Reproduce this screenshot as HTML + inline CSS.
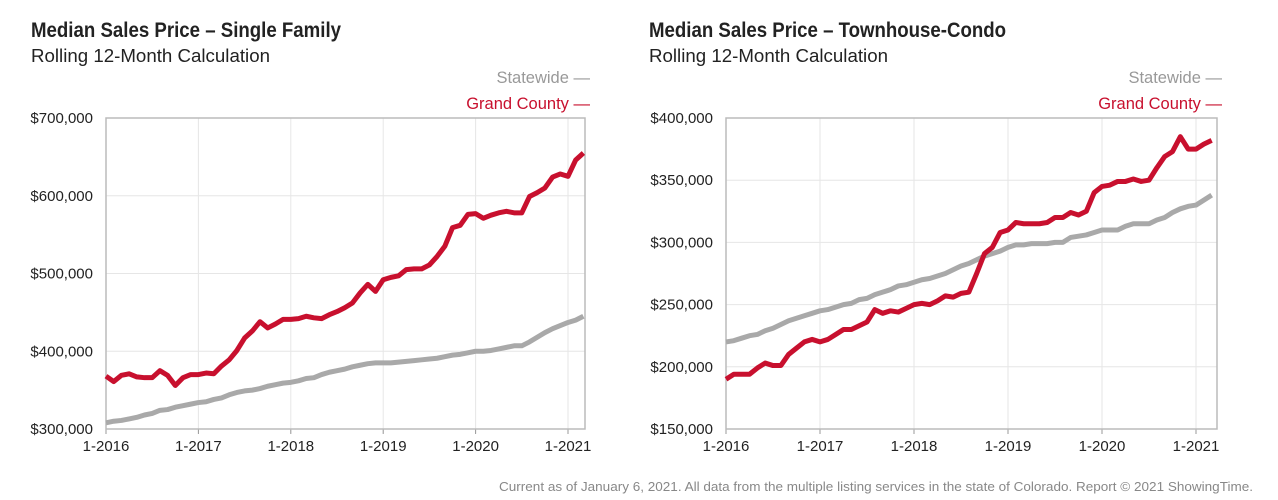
<!DOCTYPE html>
<html><head><meta charset="utf-8"><style>
body{margin:0;background:#fff;width:1278px;height:500px;overflow:hidden;font-family:"Liberation Sans",sans-serif}
svg{position:absolute;left:0;top:0}
</style></head><body>
<svg id="chart" width="1278" height="500"></svg>
<script>
const months=["1-2016","1-2017","1-2018","1-2019","1-2020","1-2021"];
const sfGrand=[368,361,369,371,367,366,366,375,369,356,366,370,370,372,371,381,389,401,417,426,438,430,435,441,441,442,445,443,442,447,451,456,462,475,486,477,492,495,497,505,506,506,511,522,535,559,562,576,577,571,575,578,580,578,578,599,604,610,624,628,625,646,655];
const sfState=[308,310,311,313,315,318,320,324,325,328,330,332,334,335,338,340,344,347,349,350,352,355,357,359,360,362,365,366,370,373,375,377,380,382,384,385,385,385,386,387,388,389,390,391,393,395,396,398,400,400,401,403,405,407,407,412,418,424,429,433,437,440,445];
const thGrand=[190,194,194,194,199,203,201,201,210,215,220,222,220,222,226,230,230,233,236,246,243,245,244,247,250,251,250,253,257,256,259,260,275,291,296,308,310,316,315,315,315,316,320,320,324,322,325,340,345,346,349,349,351,349,350,360,369,373,385,375,375,379,382];
const thState=[220,221,223,225,226,229,231,234,237,239,241,243,245,246,248,250,251,254,255,258,260,262,265,266,268,270,271,273,275,278,281,283,286,289,291,293,296,298,298,299,299,299,300,300,304,305,306,308,310,310,310,313,315,315,315,318,320,324,327,329,330,334,338];
const sfTicks=[300,400,500,600,700];
const thTicks=[150,200,250,300,350,400];
const NS="http://www.w3.org/2000/svg";
const svg=document.getElementById('chart');
function mk(tag,attrs,parent){const e=document.createElementNS(NS,tag);for(const k in attrs)e.setAttribute(k,attrs[k]);(parent||svg).appendChild(e);return e;}
function fmt(v){return "$"+v+",000";}
function drawChart(cfg){
  const g=mk('g',{});
  
  
  const L=cfg.x0,R=cfg.x1,T=118,B=429;
  const perMonth=(cfg.x2021-L)/60;
  const xs=i=>L+i*perMonth;
  const ys=v=>B-(v-cfg.min)/(cfg.max-cfg.min)*(B-T);
  let t=mk('text',{x:cfg.tx,y:37,'font-weight':'bold','font-size':'21',fill:'#222',textLength:cfg.tw,lengthAdjust:'spacingAndGlyphs'},g);t.textContent=cfg.title;
  
  t=mk('text',{x:cfg.tx,y:62,'font-size':'18.5',fill:'#222',textLength:239,lengthAdjust:'spacingAndGlyphs'},g);t.textContent="Rolling 12-Month Calculation";
  
  t=mk('text',{x:R+5,y:83,'font-size':'16.5','text-anchor':'end',fill:'#999'},g);t.textContent="Statewide  —";
  
  t=mk('text',{x:R+5,y:109,'font-size':'16.5','text-anchor':'end',fill:'#c8102e'},g);t.textContent="Grand County  —";
  
  cfg.ticks.forEach(v=>{
    const l=mk('line',{x1:L,x2:R,y1:ys(v),y2:ys(v),stroke:'#e6e6e6','stroke-width':1},g);
    
    const tt=mk('text',{x:L-13,y:ys(v)+5,'font-size':'15','text-anchor':'end',fill:'#222'},g);tt.textContent=fmt(v);
    
  });
  months.forEach((m,i)=>{
    const x=xs(i*12);
    const l=mk('line',{x1:x,x2:x,y1:T,y2:B+4,stroke:'#e6e6e6','stroke-width':1},g);
    
    const tk=mk('line',{x1:x,x2:x,y1:B,y2:B+5,stroke:'#999','stroke-width':1},g);
    
    const tt=mk('text',{x:x,y:B+22,'font-size':'15','text-anchor':'middle',fill:'#222'},g);tt.textContent=m;
    
  });
  const frame=mk('rect',{x:L,y:T,width:R-L,height:B-T,fill:'none',stroke:'#bbb','stroke-width':1.5},g);
  
  const line=(arr,color,name)=>{
    const p=mk('polyline',{points:arr.map((v,i)=>xs(i)+','+ys(v)).join(' '),fill:'none',stroke:color,'stroke-width':5,'stroke-linejoin':'round','stroke-linecap':'butt'},g);
    
  };
  line(cfg.state,'#a9a9a9','statewide-line');
  line(cfg.grand,'#c8102e','grand-county-line');
}
drawChart({name:'single-family-chart',title:'Median Sales Price – Single Family',tx:31,tw:310,x0:106,x1:585,x2021:568,min:300,max:700,ticks:sfTicks,grand:sfGrand,state:sfState});
drawChart({name:'townhouse-condo-chart',title:'Median Sales Price – Townhouse-Condo',tx:649,tw:357,x0:726,x1:1217,x2021:1196,min:150,max:400,ticks:thTicks,grand:thGrand,state:thState});
const f=mk('text',{x:499,y:491,'font-size':'13',fill:'#888',textLength:754,lengthAdjust:'spacingAndGlyphs'});
f.textContent="Current as of January 6, 2021. All data from the multiple listing services in the state of Colorado. Report © 2021 ShowingTime.";


</script>
</body></html>
